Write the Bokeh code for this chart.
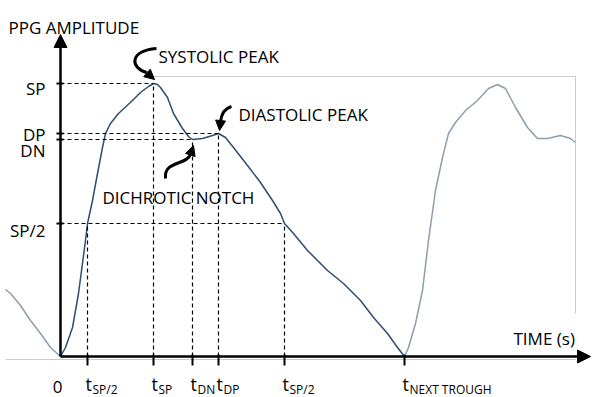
from bokeh.plotting import figure
from bokeh.models import Range1d, Arrow, NormalHead
from bokeh.core.properties import value
from bokeh.embed import file_html
from bokeh.resources import INLINE

# ---------------- data ----------------
# main pulse (time, amplitude)
pulse_t = [0, 5, 12, 18, 25, 27, 32, 37, 42, 45, 50, 58, 72, 80, 88, 93, 97, 100, 107, 113,
           122, 128, 132, 142, 152, 158, 165, 173, 187, 200, 212, 220, 224, 233, 247, 267,
           283, 300, 313, 327, 337, 344]
pulse_a = [0, 9, 29, 63, 116, 133, 156, 183, 209, 223, 233, 243, 256, 264, 270, 273, 272, 269, 259, 243,
           228, 220, 217, 218, 221, 223, 219, 209, 191, 174, 156, 143, 133, 123, 106, 86,
           73, 56, 39, 23, 9, 0]
# following pulse
next_t = [344, 348, 355, 362, 368, 375, 382, 388, 395, 405, 417, 428, 437, 445, 455, 467, 477, 487, 500, 510, 515]
next_a = [0, 9, 33, 66, 116, 166, 199, 223, 234, 246, 256, 268, 272, 268, 249, 229, 218, 218, 221, 218, 214]
# preceding pulse tail
prev_t = [-55, -50, -40, -30, -20, -10, 0]
prev_a = [67, 63, 51, 36, 23, 9, 0]

# amplitude levels
level_names = ["SP", "DP", "DN", "SP/2"]
levels = [273, 223, 217, 133]
# time ticks
time_names = ["SP/2", "SP", "DN", "DP", "SP/2", "NEXT TROUGH"]
times = [27, 93, 132, 158, 224, 344]
# characteristic points (time, level)
pt_t = [27, 93, 132, 158, 224]
pt_a = [133, 273, 217, 223, 133]

# ---------------- layout ----------------
FONT = value("Open Sans")
MAIN = "#2e4d70"
FAINT = "#8d9eae"
GRAY = "#cccccc"

p = figure(width=600, height=397, x_range=Range1d(-60, 540), y_range=Range1d(-41, 356),
           output_backend="svg", toolbar_location=None, min_border=0,
           x_axis_type=None, y_axis_type=None)
p.grid.visible = False
p.outline_line_color = None
p.background_fill_color = "white"

# gray frame from original plot window
p.segment(x0=[92, 515, -55], y0=[280, 280, -3], x1=[515, 515, 515], y1=[280, 43, -3],
          line_color=GRAY, line_width=1)

# curves
p.line(prev_t, prev_a, line_color=FAINT, line_width=1.5)
p.line(next_t, next_a, line_color=FAINT, line_width=1.5)
p.line(pulse_t, pulse_a, line_color=MAIN, line_width=1.5)

# dashed guides
h_x1 = [max(t for t, a in zip(pt_t, pt_a) if a == lv) for lv in levels]
p.segment(x0=[0] * len(levels), y0=levels, x1=h_x1, y1=levels,
          line_color="black", line_width=1.2, line_dash="4 3")
p.segment(x0=pt_t, y0=[0] * len(pt_t), x1=pt_t, y1=pt_a,
          line_color="black", line_width=1.2, line_dash="4 3")

# axes with arrow heads
p.add_layout(Arrow(end=NormalHead(size=13, fill_color="black", line_color="black"),
                   x_start=0, y_start=0, x_end=0, y_end=322, line_width=2.5, line_color="black"))
p.add_layout(Arrow(end=NormalHead(size=13, fill_color="black", line_color="black"),
                   x_start=0, y_start=0, x_end=530, y_end=0, line_width=2.5, line_color="black"))

# ticks
p.segment(x0=[-4] * len(levels), y0=levels, x1=[3] * len(levels), y1=levels,
          line_color="black", line_width=2)
p.segment(x0=times, y0=[2] * len(times), x1=times, y1=[-9] * len(times),
          line_color="black", line_width=2)

# level labels
lvl_label_y = [268, 222, 206, 126]
p.text(x=[-15] * len(levels), y=lvl_label_y, text=level_names, text_font=FONT,
       text_font_size="17px", text_align="right", text_baseline="alphabetic", text_color="black")
p.text(x=[-3], y=[-30], text=["0"], text_font=FONT, text_font_size="17px",
       text_align="center", text_baseline="alphabetic", text_color="black")

# time labels: t with subscript
p.text(x=[t - 2 for t in times], y=[-27] * len(times), text=["t"] * len(times), text_font=FONT,
       text_font_size="18px", text_align="left", text_baseline="alphabetic", text_color="black")
p.text(x=[t + 5 for t in times], y=[-33] * len(times), text=time_names, text_font=FONT,
       text_font_size="12px", text_align="left", text_baseline="alphabetic", text_color="black")

# titles / annotations
p.text(x=[-52, 453], y=[329, 18], text=["PPG AMPLITUDE", "TIME (s)"], text_font=FONT,
       text_font_size="17px", text_align="left", text_baseline="alphabetic", text_color="black")
p.text(x=[98, 178, 42], y=[300, 242, 159], text=["SYSTOLIC PEAK", "DIASTOLIC PEAK", "DICHROTIC NOTCH"],
       text_font=FONT, text_font_size="17px", text_align="left", text_baseline="alphabetic",
       text_color="black")

# curly pointer arrows
bz = dict(x0=[96, 171, 105], y0=[308, 250, 178],
          cx0=[68, 164, 103], cy0=[306, 248, 196],
          cx1=[70, 161, 126], cy1=[288, 243, 191],
          x1=[86, 160, 130], y1=[284, 235, 202])
p.bezier(x0=bz["x0"], y0=bz["y0"], x1=bz["x1"], y1=bz["y1"], cx0=bz["cx0"], cy0=bz["cy0"],
         cx1=bz["cx1"], cy1=bz["cy1"], line_color="black", line_width=3)
tips_x = [94, 159, 133]
tips_y = [277, 226, 211]
for xs, ys, xe, ye in zip(bz["x1"], bz["y1"], tips_x, tips_y):
    p.add_layout(Arrow(end=NormalHead(size=10, fill_color="black", line_color="black"),
                       x_start=xs, y_start=ys, x_end=xe, y_end=ye, line_width=3, line_color="black"))

open("out.html", "w").write(file_html(p, INLINE))
